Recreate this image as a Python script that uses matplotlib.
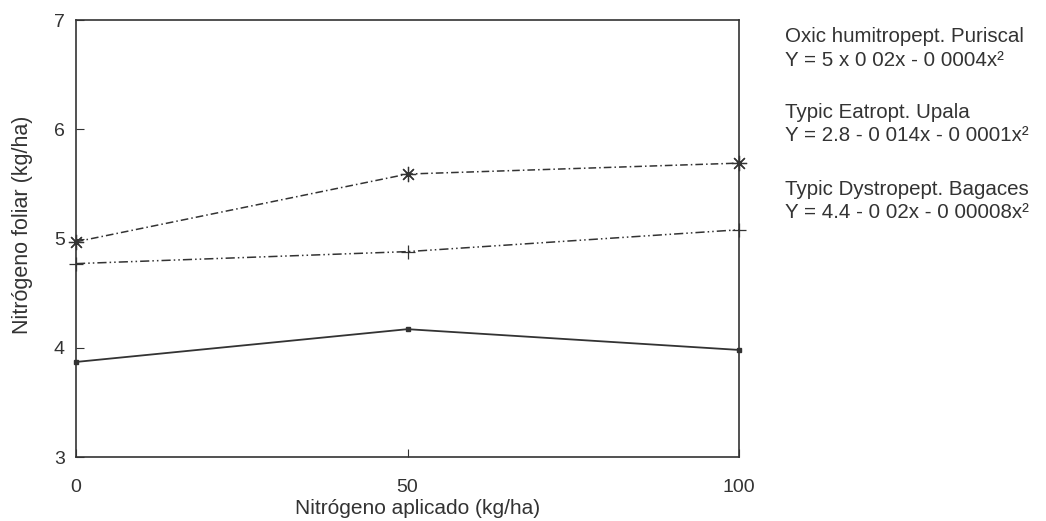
import matplotlib
matplotlib.use("Agg")
import matplotlib.pyplot as plt

plt.rcParams['font.family'] = ['Liberation Sans', 'DejaVu Sans']

x = [0, 50, 100]
puriscal = [4.97, 5.59, 5.69]
upala = [4.77, 4.88, 5.08]
bagaces = [3.87, 4.17, 3.98]

xticks = [0, 50, 100]
yticks = [3, 4, 5, 6, 7]

labels = [
    ("Oxic humitropept. Puriscal", "Y = 5 x 0 02x - 0 0004x²"),
    ("Typic Eatropt. Upala", "Y = 2.8 - 0 014x - 0 0001x²"),
    ("Typic Dystropept. Bagaces", "Y = 4.4 - 0 02x - 0 00008x²"),
]

col = "#333333"
fig = plt.figure(figsize=(10.46, 5.21), dpi=100)
ax = fig.add_axes([76/1046, 1-457/521, (739-76)/1046, (457-20)/521])

ax.plot(x, puriscal, color=col, lw=1.1, linestyle=(0, (5, 2, 1, 2)),
        marker=(8, 2, 0), markersize=11, markeredgewidth=0.9, clip_on=False)
ax.plot(x, upala, color=col, lw=1.1, linestyle=(0, (6, 2, 1, 2, 1, 2)),
        marker='+', markersize=10, markeredgewidth=0.9, clip_on=False)
ax.plot(x, bagaces, color=col, lw=1.3, linestyle='-',
        marker='s', markersize=3.5, clip_on=False)

ax.set_xlim(0, 100)
ax.set_ylim(3, 7)
ax.set_xticks(xticks)
ax.set_yticks(yticks)
ax.tick_params(direction='in', length=6, colors=col, labelsize=14, pad=8)
ax.tick_params(axis='x', pad=16)
for s in ax.spines.values():
    s.set_color(col)
    s.set_linewidth(1.2)

ax.set_xlabel("Nitrógeno aplicado (kg/ha)", fontsize=15, color=col)
ax.set_ylabel("Nitrógeno foliar (kg/ha)", fontsize=15.5, color=col)
ax.xaxis.set_label_coords((418-76)/663, -(499-457)/437)
ax.yaxis.set_label_coords(-(76-33)/663, (457-225)/437)

ys = [37, 113, 189]
for (a, b), yy in zip(labels, ys):
    fig.text(785/1046, 1-yy/521, a, fontsize=14.8, color=col, va='center', ha='left')
    fig.text(785/1046, 1-(yy+23)/521, b, fontsize=14.8, color=col, va='center', ha='left')

fig.savefig("out.png", dpi=100)
